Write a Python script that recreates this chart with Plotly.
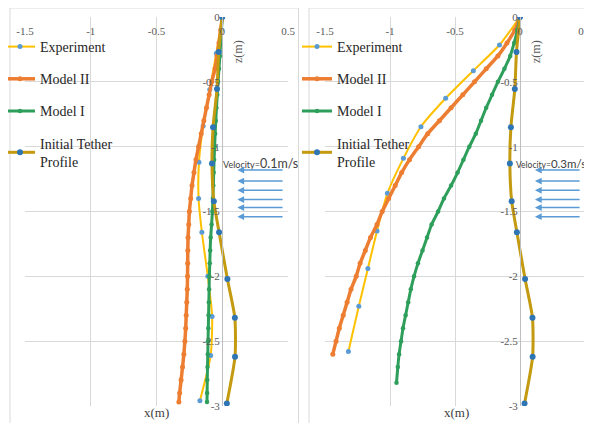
import plotly.graph_objects as go

# ---------------- data ----------------
x_ticks = [-1.5, -1, -0.5, 0, 0.5]
x_ticktext = ["-1.5", "-1", "-0.5", "0", "0.5"]
z_ticks = [0, -0.5, -1, -1.5, -2, -2.5, -3]
z_ticktext = ["0", "-0.5", "-1", "-1.5", "-2", "-2.5", "-3"]

series_names = ["Experiment", "Model II", "Model I", "Initial Tether<br>Profile"]

# Initial tether profile (same in both panels)
tether_z = [0, -0.27, -0.556, -0.85, -1.13, -1.42, -1.66, -2.02, -2.32, -2.62, -2.98]
tether_x = [0, -0.027, -0.04, -0.07, -0.078, -0.064, -0.024, 0.039, 0.096, 0.097, 0.035]

# v = 0.1 m/s
exp1_z = [0, -0.28, -0.56, -0.84, -1.12, -1.40, -1.66, -2.0, -2.31, -2.61, -2.96]
exp1_x = [0, -0.045, -0.095, -0.145, -0.177, -0.18, -0.155, -0.11, -0.077, -0.088, -0.17]

m2_1_z = [0, -0.1, -0.2, -0.3, -0.4, -0.5, -0.6, -0.7, -0.8, -0.9, -1.0, -1.1, -1.2, -1.3, -1.4, -1.5,
          -1.6, -1.7, -1.8, -1.9, -2.0, -2.1, -2.2, -2.3, -2.4, -2.5, -2.6, -2.7, -2.8, -2.9, -2.97]
m2_1_x = [0, -0.012, -0.025, -0.04, -0.055, -0.08, -0.10, -0.12, -0.14, -0.16, -0.18, -0.20, -0.215,
          -0.23, -0.24, -0.25, -0.255, -0.26, -0.262, -0.263, -0.264, -0.266, -0.27, -0.274, -0.278,
          -0.284, -0.292, -0.302, -0.313, -0.324, -0.33]

m1_1_z = m2_1_z
m1_1_x = [0, -0.006, -0.012, -0.018, -0.025, -0.032, -0.038, -0.044, -0.049, -0.054, -0.058, -0.062,
          -0.065, -0.068, -0.071, -0.075, -0.081, -0.088, -0.092, -0.095, -0.098, -0.1, -0.102, -0.104,
          -0.106, -0.108, -0.11, -0.112, -0.114, -0.115, -0.116]

# v = 0.3 m/s
exp3_z = [0, -0.216, -0.414, -0.627, -0.846, -1.09, -1.36, -1.65, -1.94, -2.23, -2.58]
exp3_x = [0, -0.158, -0.359, -0.572, -0.762, -0.897, -1.02, -1.10, -1.17, -1.24, -1.32]

m2_3_z = [0, -0.1, -0.2, -0.3, -0.4, -0.5, -0.6, -0.7, -0.8, -0.9, -1.0, -1.1, -1.2, -1.3, -1.4,
          -1.5, -1.6, -1.7, -1.8, -1.9, -2.0, -2.1, -2.2, -2.3, -2.4, -2.5, -2.6]
m2_3_x = [0, -0.04, -0.10, -0.17, -0.26, -0.35, -0.44, -0.53, -0.62, -0.71, -0.78, -0.85, -0.91,
          -0.96, -1.01, -1.06, -1.10, -1.15, -1.19, -1.23, -1.26, -1.30, -1.33, -1.36, -1.39, -1.415, -1.44]

m1_3_z = [0, -0.1, -0.2, -0.3, -0.4, -0.5, -0.6, -0.7, -0.8, -0.9, -1.0, -1.1, -1.2, -1.3, -1.4,
          -1.5, -1.6, -1.7, -1.8, -1.9, -2.0, -2.1, -2.2, -2.3, -2.4, -2.5, -2.6, -2.7, -2.82]
m1_3_x = [0, -0.02, -0.045, -0.075, -0.12, -0.17, -0.215, -0.26, -0.30, -0.34, -0.39, -0.435, -0.48,
          -0.53, -0.585, -0.63, -0.68, -0.715, -0.75, -0.785, -0.815, -0.84, -0.86, -0.88, -0.90,
          -0.915, -0.93, -0.94, -0.95]

velocity_labels = ["0.1m/s", "0.3m/s"]
arrow_z = [-1.18, -1.265, -1.337, -1.408, -1.47, -1.54]

# ---------------- styling ----------------
W, H = 608, 439   # figure size (page shows it from an 8 px body offset)
OFF = 8
SERIF = "Liberation Serif"
GRID = "#D9D9D9"
TICK_C = "#595959"
C_EXP = "#FFC000"
C_EXP_M = "#5B9BD5"
C_M2 = "#ED7D31"
C_M1 = "#2E9E5B"
C_TET = "#C39A10"
C_TET_M = "#2E75B6"

fig = go.Figure()

panels = [
    dict(xa="x", ya="y", legend="legend",
         data=[(exp1_x, exp1_z), (m2_1_x, m2_1_z), (m1_1_x, m1_1_z), (tether_x, tether_z)]),
    dict(xa="x2", ya="y2", legend="legend2",
         data=[(exp3_x, exp3_z), (m2_3_x, m2_3_z), (m1_3_x, m1_3_z), (tether_x, tether_z)]),
]

styles = [
    dict(line=dict(color=C_EXP, width=2), marker=dict(color=C_EXP_M, size=5)),
    dict(line=dict(color=C_M2, width=3.5), marker=dict(color=C_M2, size=5)),
    dict(line=dict(color=C_M1, width=3), marker=dict(color=C_M1, size=4.5)),
    dict(line=dict(color=C_TET, width=3), marker=dict(color=C_TET_M, size=6)),
]

for p in panels:
    for i, (xs, zs) in enumerate(p["data"]):
        st = styles[i]
        fig.add_trace(go.Scatter(
            x=xs, y=zs, mode="lines+markers", name=series_names[i],
            line=dict(st["line"], shape="spline", smoothing=0.6),
            marker=st["marker"],
            xaxis=p["xa"], yaxis=p["ya"], legend=p["legend"],
            legendgroup=f"{p['legend']}_{i}", showlegend=True,
        ))

# panel geometry in (screen) pixels
L_x0, L_x1 = 25, 288      # left plot area
R_x0, R_x1 = 325, 585     # right plot area
y_top, y_bot = 17, 406
L_zero = 222
R_zero = 520

def px(v):
    return (v - OFF) / W

def py(v):
    return 1 - (v - OFF) / H

axis_common = dict(showgrid=True, gridcolor=GRID, gridwidth=1, zeroline=False, automargin=False,
                   tickfont=dict(family=SERIF, size=11, color=TICK_C), ticks="")

fig.update_layout(
    width=W, height=H,
    margin=dict(l=0, r=0, t=0, b=0, pad=0, autoexpand=False),
    paper_bgcolor="white", plot_bgcolor="white",
    showlegend=True,
    xaxis=dict(axis_common, domain=[px(L_x0), px(L_x1)], range=[-1.5, 0.5],
               tickvals=x_ticks, ticktext=x_ticktext, side="top", ticklabelposition="inside",
               ticklabeloverflow="allow", ticklabelstandoff=7, anchor="y", showline=False),
    yaxis=dict(axis_common, domain=[py(y_bot), py(y_top)], range=[-3, 0],
               tickvals=z_ticks, ticktext=z_ticktext, anchor="free", position=px(L_zero),
               side="left", showline=True, linecolor="#BFBFBF", linewidth=1),
    xaxis2=dict(axis_common, domain=[px(R_x0), px(R_x1)], range=[-1.5, 0.5],
                tickvals=x_ticks, ticktext=x_ticktext, side="top", ticklabelposition="inside",
                ticklabeloverflow="allow", ticklabelstandoff=7, anchor="y2", showline=False),
    yaxis2=dict(axis_common, domain=[py(y_bot), py(y_top)], range=[-3, 0],
                tickvals=z_ticks, ticktext=z_ticktext, anchor="free", position=px(R_zero),
                side="left", showline=True, linecolor="#BFBFBF", linewidth=1),
    legend=dict(x=px(0), y=py(31), xanchor="left", yanchor="top", bgcolor="rgba(0,0,0,0)",
                font=dict(family=SERIF, size=14, color="#262626"), tracegroupgap=11,
                itemclick=False),
    legend2=dict(x=px(297), y=py(31), xanchor="left", yanchor="top", bgcolor="rgba(0,0,0,0)",
                 font=dict(family=SERIF, size=14, color="#262626"), tracegroupgap=11,
                 itemclick=False),
)

# panel frames
for x0, x1 in [(10, 298.5), (309, 620)]:
    fig.add_shape(type="rect", xref="paper", yref="paper",
                  x0=px(x0), x1=px(x1), y0=py(450), y1=py(8),
                  line=dict(color="#D9D9D9", width=1), fillcolor="rgba(0,0,0,0)", layer="below")

# axis titles
for zero, mid in [(L_zero, (L_x0 + L_x1) / 2 - 0.5), (R_zero, (R_x0 + R_x1) / 2 + 1)]:
    fig.add_annotation(xref="paper", yref="paper", x=px(zero + 16), y=py(52),
                       xanchor="center", yanchor="middle",
                       text="z(m)", textangle=-90, showarrow=False,
                       font=dict(family=SERIF, size=12, color=TICK_C))
    fig.add_annotation(xref="paper", yref="paper", x=px(mid), y=py(412),
                       xanchor="center", yanchor="middle",
                       text="x(m)", showarrow=False,
                       font=dict(family=SERIF, size=13, color="#404040"))

# velocity labels and arrows
vel_style = [(-0.01, 9, 12.5), (-0.05, 8.5, 11.5)]
for (xa, ya), vlab, (x0, s_small, s_big) in zip([("x", "y"), ("x2", "y2")], velocity_labels, vel_style):
    fig.add_annotation(xref=xa, yref=ya, x=x0, y=-1.13, xanchor="left", yanchor="middle",
                       text=f"<span style='font-size:{s_small}px'>Velocity=</span>{vlab}",
                       showarrow=False, font=dict(family="Lato", size=s_big, color="#404040"))
    for z in arrow_z:
        fig.add_annotation(xref=xa, yref=ya, axref=xa, ayref=ya,
                           x=0.115, y=z, ax=0.47, ay=z, text="",
                           showarrow=True, arrowhead=2, arrowsize=0.9, arrowwidth=1.5,
                           arrowcolor="#5B9BD5")

fig.write_html("out.html")
